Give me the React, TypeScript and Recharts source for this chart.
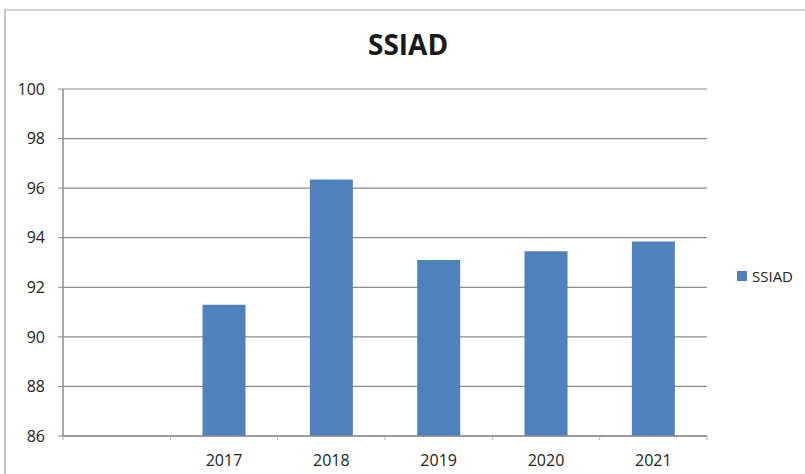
import React from "react";
import { BarChart, Bar, XAxis, YAxis, CartesianGrid } from "recharts";

const categories = ["", "2017", "2018", "2019", "2020", "2021"];
const values: (number | null)[] = [null, 91.3, 96.35, 93.1, 93.45, 93.85];
const yTicks = [86, 88, 90, 92, 94, 96, 98, 100];
const seriesName = "SSIAD";
const title = "SSIAD";

const data = categories.map((c, i) => ({ year: c, SSIAD: values[i] }));

const W = 805;
const H = 474;
const margin = { top: 89, right: 98, left: 0, bottom: 8 };
const yAxisWidth = 63;
const step = (W - margin.right - margin.left - yAxisWidth) / categories.length;

const font = "'Open Sans', sans-serif";

const XTick = (props: any) => {
  const { x, y, payload, index } = props;
  const left = x - step / 2;
  return (
    <g>
      <line x1={left} x2={left} y1={y} y2={y + 4} stroke="#b0b0b0" strokeWidth={1} />
      {index === categories.length - 1 && (
        <line x1={x + step / 2} x2={x + step / 2} y1={y} y2={y + 4} stroke="#b0b0b0" strokeWidth={1} />
      )}
      <text x={x} y={y + 30} textAnchor="middle" fontFamily={font} fontSize={16} fill="#222">
        {payload.value}
      </text>
    </g>
  );
};

export default function App() {
  return (
    <div style={{ position: "absolute", left: 0, top: 0, width: W, height: H, background: "#fff", overflow: "hidden" }}>
      <div
        style={{
          position: "absolute",
          left: 4,
          top: 9,
          width: W + 10,
          height: H + 10,
          borderLeft: "2px solid #c4c4c4",
          borderTop: "2px solid #cfcfcf",
        }}
      />
      <div
        style={{
          position: "absolute",
          left: 368,
          top: 25,
          fontFamily: font,
          fontWeight: 700,
          fontSize: 28,
          color: "#1a1a1a",
          lineHeight: "38px",
        }}
      >
        {title}
      </div>
      <div
        style={{
          position: "absolute",
          left: 737,
          top: 266,
          display: "flex",
          alignItems: "center",
          fontFamily: font,
          fontSize: 15,
          color: "#222",
          lineHeight: "20px",
        }}
      >
        <span style={{ display: "inline-block", width: 10, height: 10, background: "#4F81BD", marginRight: 5 }} />
        <span>{seriesName}</span>
      </div>
      <div style={{ position: "absolute", left: 0, top: 0 }}>
        <BarChart width={W} height={H} data={data} margin={margin} barCategoryGap="30%">
          <CartesianGrid horizontal vertical={false} stroke="#8c8c8c" strokeWidth={1.2} />
          <XAxis
            dataKey="year"
            height={30}
            tickSize={0}
            tickMargin={0}
            axisLine={{ stroke: "#8c8c8c", strokeWidth: 1.5 }}
            tickLine={false}
            tick={<XTick />}
            interval={0}
          />
          <YAxis
            width={yAxisWidth}
            domain={[86, 100]}
            ticks={yTicks}
            allowDataOverflow
            tickSize={5}
            tickMargin={13}
            axisLine={{ stroke: "#8c8c8c", strokeWidth: 1.5 }}
            tickLine={{ stroke: "#8c8c8c" }}
            tick={{ fontFamily: font, fontSize: 16, fill: "#222" }}
          />
          <Bar dataKey="SSIAD" name={seriesName} fill="#4F81BD" isAnimationActive={false} />
        </BarChart>
      </div>
    </div>
  );
}
